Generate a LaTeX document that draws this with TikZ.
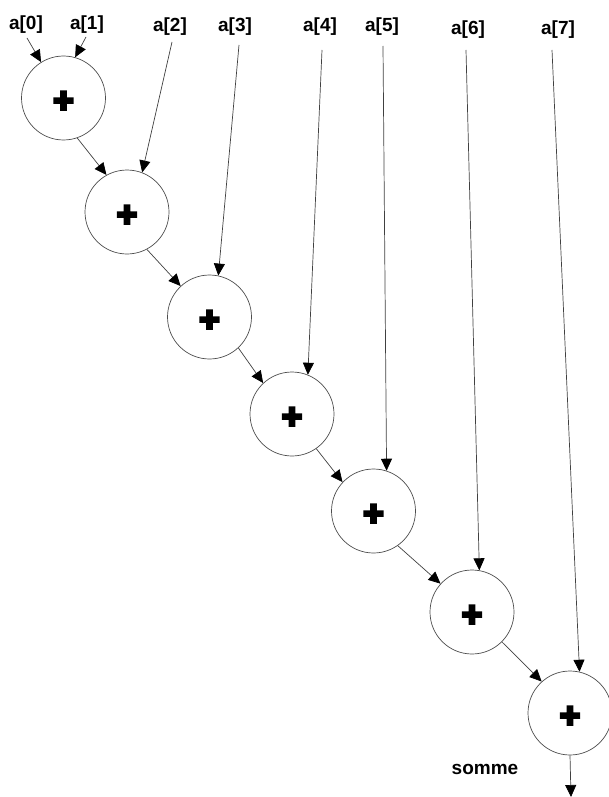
\documentclass[tikz,border=0pt]{standalone}
\usepackage{fontspec}
\setmainfont{Liberation Sans}
\newfontfamily\plusfont{Liberation Sans}[BoldFeatures={FakeBold=8}]
\usetikzlibrary{arrows.meta}
\begin{document}
\begin{tikzpicture}[x=1pt,y=-1pt,
  lbl/.style={font=\bfseries\fontsize{19}{19}\selectfont, inner sep=0pt},
  add/.style={circle, draw=black!70, line width=0.7pt, minimum size=84pt, inner sep=0pt},
  plusmark/.style={font=\plusfont\bfseries\fontsize{35}{35}\selectfont, inner sep=0pt, yshift=-4pt},
  arr/.style={draw=black!75, line width=0.7pt, -{Triangle[length=12pt,width=11pt,color=black]}}]
\useasboundingbox (0,0) rectangle (609,797);
% adders
\node[add] (c1) at (63.5,98) {};
\node[add] (c2) at (127,212) {};
\node[add] (c3) at (209.5,317) {};
\node[add] (c4) at (292,414) {};
\node[add] (c5) at (373.5,511) {};
\node[add] (c6) at (472,612) {};
\node[add] (c7) at (570,713) {};
\node[plusmark] (p1) at (c1) {+};
\node[plusmark] (p2) at (c2) {+};
\node[plusmark] (p3) at (c3) {+};
\node[plusmark] (p4) at (c4) {+};
\node[plusmark] (p5) at (c5) {+};
\node[plusmark] (p6) at (c6) {+};
\node[plusmark] (p7) at (c7) {+};
% labels
\node[lbl] (l0) at (26,25) {a[0]};
\node[lbl] (l1) at (87,25) {a[1]};
\node[lbl] (l2) at (170,27) {a[2]};
\node[lbl] (l3) at (235,27) {a[3]};
\node[lbl] (l4) at (320,27) {a[4]};
\node[lbl] (l5) at (382,27) {a[5]};
\node[lbl] (l6) at (468,30) {a[6]};
\node[lbl] (l7) at (558,30) {a[7]};
\node[lbl] (s) at (485,769) {somme};
% tails
\coordinate (t0) at (27,38);
\coordinate (t1) at (86,37);
\coordinate (t2) at (172,42);
\coordinate (t3) at (239,45);
\coordinate (t4) at (322,50);
\coordinate (t5) at (383,46);
\coordinate (t6) at (466,50);
\coordinate (t7) at (552,50);
\coordinate (out) at (571,797);
% inputs
\draw[arr] (t0) -- (c1.122);
\draw[arr] (t1) -- (c1.74);
\draw[arr] (t2) -- (c2.69);
\draw[arr] (t3) -- (c3.78);
\draw[arr] (t4) -- (c4.68);
\draw[arr] (t5) -- (c5.72);
\draw[arr] (t6) -- (c6.80);
\draw[arr] (t7) -- (c7.77);
% chain
\draw[arr] (c1.-71) -- (c2.119);
\draw[arr] (c2.-62) -- (c3.133);
\draw[arr] (c3.-47) -- (c4.133);
\draw[arr] (c4.-55) -- (c5.137);
\draw[arr] (c5.-55) -- (c6.138);
\draw[arr] (c6.-45) -- (c7.132);
\draw[arr] (c7.south) -- (out);
\end{tikzpicture}
\end{document}
